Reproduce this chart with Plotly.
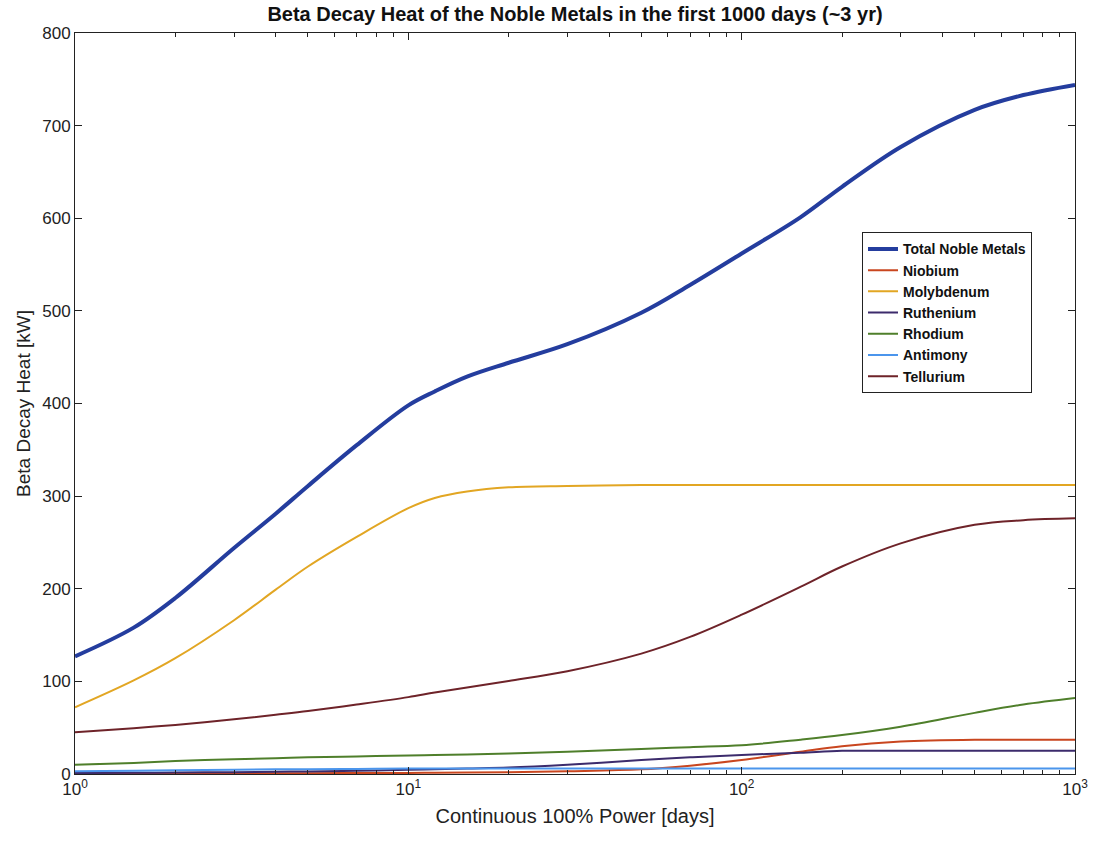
import plotly.graph_objects as go

days = [1, 1.5, 2, 3, 4, 5, 7, 10, 12, 15, 20, 30, 50, 70, 100, 150, 200, 300, 500, 700, 1000]

total = [127, 158, 190, 244, 281, 311, 355, 398, 413, 429, 444, 464, 498, 528, 562, 601, 634, 677, 717, 733, 744]
niobium = [0.5, 0.5, 0.6, 0.7, 0.8, 0.9, 1, 1.2, 1.4, 1.6, 2, 3, 5, 9, 15, 24, 30, 35, 37, 37, 37]
molybdenum = [72, 101, 125, 166, 199, 224, 256, 287, 298, 305, 309.5, 311, 312, 312, 312, 312, 312, 312, 312, 312, 312]
ruthenium = [1, 1.3, 1.6, 2, 2.4, 2.8, 3.4, 4.5, 5.2, 6, 7, 10, 15, 18, 20.5, 23, 25, 25, 25, 25, 25]
rhodium = [10, 12, 14, 16, 17, 18, 19, 20, 20.5, 21, 22, 24, 27, 29, 31, 37, 42, 51, 66, 75, 82]
antimony = [3, 3.5, 4, 4.5, 5, 5.2, 5.5, 6, 6, 6, 6, 6, 6, 6, 6, 6, 6, 6, 6, 6, 6]
tellurium = [45, 49.5, 53, 59, 64, 68, 75, 83, 88, 93.5, 100.5, 111, 130, 148, 172, 202, 224, 249, 269, 274, 276]

names = ["Total Noble Metals", "Niobium", "Molybdenum", "Ruthenium", "Rhodium", "Antimony", "Tellurium"]
series = [total, niobium, molybdenum, ruthenium, rhodium, antimony, tellurium]
colors = ["#243d9e", "#c9461f", "#e2a623", "#3c2b6c", "#4f7f2b", "#4b95ec", "#6e2329"]
widths = [4, 2, 2, 2, 2, 2, 2]

xtick_vals = [1, 10, 100, 1000]
xtick_text = ["10<sup>0</sup>", "10<sup>1</sup>", "10<sup>2</sup>", "10<sup>3</sup>"]
minor_vals = [2, 3, 4, 5, 6, 7, 8, 9, 20, 30, 40, 50, 60, 70, 80, 90, 200, 300, 400, 500, 600, 700, 800, 900]
ytick_vals = [0, 100, 200, 300, 400, 500, 600, 700, 800]

fig = go.Figure()
for n, s, c, w in zip(names, series, colors, widths):
    fig.add_trace(go.Scatter(x=days, y=s, mode="lines", name="<b>" + n + "</b>",
                             line=dict(color=c, width=w, shape="spline", smoothing=1.0)))

font = "Liberation Sans, Arial, sans-serif"
fig.update_layout(
    width=1094, height=841,
    margin=dict(l=75, r=19, t=33, b=67, autoexpand=False),
    paper_bgcolor="white", plot_bgcolor="white",
    font=dict(family=font, size=17, color="#222"),
    title=dict(text="<b>Beta Decay Heat of the Noble Metals in the first 1000 days (~3 yr)</b>",
               x=0.5, xref="paper", xanchor="center", y=1 - 14 / 841, yanchor="middle",
               pad=dict(t=0, b=0),
               font=dict(size=20, family=font, color="#111")),
    showlegend=True,
    legend=dict(x=0.787, y=0.731, xanchor="left", yanchor="top",
                bgcolor="white", bordercolor="#222", borderwidth=1,
                font=dict(size=14, family=font, color="#111"),
                tracegroupgap=0, itemwidth=30),
    xaxis=dict(type="log", range=[0, 3], tickvals=xtick_vals, ticktext=xtick_text,
               ticks="inside", ticklen=7, tickcolor="#222", showline=True, linecolor="#222",
               linewidth=1, mirror="ticks", showgrid=False, zeroline=False, automargin=False,
               minor=dict(tickvals=minor_vals, ticks="inside", ticklen=4, tickcolor="#222", showgrid=False),
               title=dict(text="Continuous 100% Power [days]", font=dict(size=20), standoff=10),
               tickfont=dict(size=17)),
    yaxis=dict(range=[0, 800], tickvals=ytick_vals, ticks="inside", ticklen=7, tickcolor="#222",
               showline=True, linecolor="#222", linewidth=1, mirror="ticks", showgrid=False,
               zeroline=False, automargin=False,
               title=dict(text="Beta Decay Heat [kW]", font=dict(size=19), standoff=6),
               tickfont=dict(size=17)),
)

fig.write_html("out.html", config={"displayModeBar": False},
               post_script="document.body.style.margin='0px';")
